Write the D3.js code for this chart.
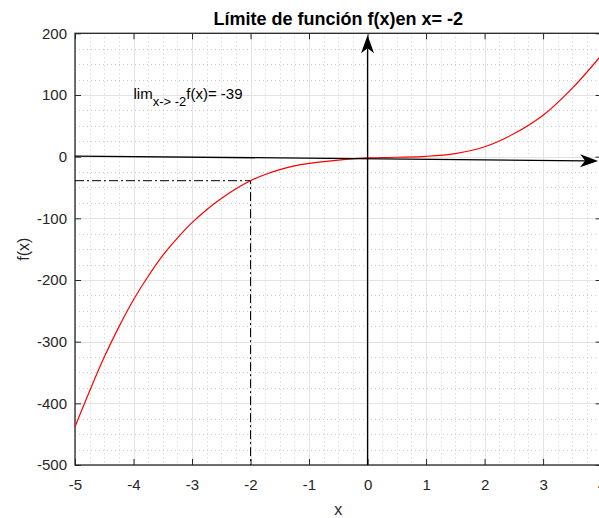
<!DOCTYPE html>
<html>
<head>
    <meta charset="utf-8">
    <title>Límite de función</title>
    <script src="https://d3js.org/d3.v7.min.js"></script>
    <style>
        body { margin: 0; background: #fff; }
        svg { display: block; font-family: "Liberation Sans", Arial, sans-serif; }
        .tick text { fill: #262626; font-size: 15px; }
        .tick line { stroke: #262626; }
    </style>
</head>
<body>
<script>
    // datos
    var xs = [-5, -4.75, -4.5, -4.25, -4, -3.75, -3.5, -3.25, -3, -2.75, -2.5, -2.25, -2,
              -1.75, -1.5, -1.25, -1, -0.75, -0.5, -0.25, 0, 0.5, 1, 1.5, 2, 2.5, 3, 3.5, 4];
    var fx = [-438, -380, -325, -276, -232, -194, -160, -132, -107, -86, -68, -52, -39,
              -29, -21, -15, -11, -8, -5.5, -3.5, -2, -1, 0.5, 5, 16, 37, 67, 111, 165];
    var xTicks = [-5, -4, -3, -2, -1, 0, 1, 2, 3, 4];
    var yTicks = [-500, -400, -300, -200, -100, 0, 100, 200];
    var limX = -2, limY = -39;
    var ejeX = [[-5, 1], [3.94, -7]];   // flecha horizontal
    var ejeY = [[0, -500], [0, 197]];   // flecha vertical
    var titulo = "Límite de función f(x)en x= -2";

    var W = 599, H = 518;
    var mLeft = 75, mRight = 601.6, mTop = 33.3, mBottom = 465;

    var svg = d3.select("body").append("svg")
        .attr("width", W)
        .attr("height", H);

    var x = d3.scaleLinear().domain([-5, 4]).range([mLeft, mRight]);
    var y = d3.scaleLinear().domain([-500, 200]).range([mBottom, mTop]);
    var fmt = function(d) { return String(d); };

    // rejilla menor (punteada)
    var xMinor = d3.range(-5, 4.001, 0.25).filter(function(d) { return d % 1 !== 0; });
    var yMinor = d3.range(-500, 200.1, 25).filter(function(d) { return d % 100 !== 0; });
    var grid = svg.append("g");
    grid.selectAll(".vmin").data(xMinor).enter().append("line")
        .attr("x1", function(d) { return Math.round(x(d)) + 0.5; })
        .attr("x2", function(d) { return Math.round(x(d)) + 0.5; })
        .attr("y1", mTop).attr("y2", mBottom)
        .attr("stroke", "#cccccc").attr("stroke-dasharray", "1,3");
    grid.selectAll(".hmin").data(yMinor).enter().append("line")
        .attr("y1", function(d) { return Math.round(y(d)) + 0.5; })
        .attr("y2", function(d) { return Math.round(y(d)) + 0.5; })
        .attr("x1", mLeft).attr("x2", mRight)
        .attr("stroke", "#cccccc").attr("stroke-dasharray", "1,3");
    // rejilla mayor
    grid.selectAll(".vmaj").data(xTicks).enter().append("line")
        .attr("x1", function(d) { return Math.round(x(d)) + 0.5; })
        .attr("x2", function(d) { return Math.round(x(d)) + 0.5; })
        .attr("y1", mTop).attr("y2", mBottom)
        .attr("stroke", "#e3e3e3");
    grid.selectAll(".hmaj").data(yTicks).enter().append("line")
        .attr("y1", function(d) { return Math.round(y(d)) + 0.5; })
        .attr("y2", function(d) { return Math.round(y(d)) + 0.5; })
        .attr("x1", mLeft).attr("x2", mRight)
        .attr("stroke", "#e3e3e3");

    // ejes
    svg.append("g")
        .attr("transform", "translate(0," + mBottom + ")")
        .call(d3.axisBottom(x).tickValues(xTicks).tickFormat(fmt).tickSize(-6).tickSizeOuter(0).tickPadding(14))
        .call(function(g) { g.select(".domain").remove(); });
    svg.append("g")
        .attr("transform", "translate(" + mLeft + ",0)")
        .call(d3.axisLeft(y).tickValues(yTicks).tickFormat(fmt).tickSize(-6).tickSizeOuter(0).tickPadding(8))
        .call(function(g) { g.select(".domain").remove(); });
    svg.append("g")
        .attr("transform", "translate(0," + mTop + ")")
        .call(d3.axisTop(x).tickValues(xTicks).tickSize(-6).tickSizeOuter(0).tickFormat(""))
        .call(function(g) { g.select(".domain").remove(); });
    svg.append("g")
        .attr("transform", "translate(" + mRight + ",0)")
        .call(d3.axisRight(y).tickValues(yTicks).tickSize(-6).tickSizeOuter(0).tickFormat(""))
        .call(function(g) { g.select(".domain").remove(); });
    svg.selectAll(".tick text").attr("font-family", "Liberation Sans, Arial, sans-serif");

    svg.append("rect")
        .attr("x", mLeft).attr("y", mTop)
        .attr("width", mRight - mLeft).attr("height", mBottom - mTop)
        .attr("fill", "none").attr("stroke", "#262626").attr("stroke-width", 1.3);

    // lineas de referencia (raya-punto)
    svg.append("path")
        .attr("d", d3.line()([[x(-5), y(limY)], [x(limX), y(limY)], [x(limX), y(-500)]]))
        .attr("fill", "none").attr("stroke", "#000").attr("stroke-width", 1)
        .attr("stroke-dasharray", "9,3,2,3");

    // curva
    var line = d3.line()
        .x(function(d, i) { return x(xs[i]); })
        .y(function(d) { return y(d); })
        .curve(d3.curveCatmullRom.alpha(0.5));
    svg.append("path")
        .datum(fx)
        .attr("d", line)
        .attr("fill", "none")
        .attr("stroke", "#ff0000")
        .attr("stroke-width", 1.2);

    // flechas
    function flecha(p) {
        var x0 = x(p[0][0]), y0 = y(p[0][1]), x1 = x(p[1][0]), y1 = y(p[1][1]);
        var dx = x1 - x0, dy = y1 - y0, len = Math.sqrt(dx * dx + dy * dy);
        var ux = dx / len, uy = dy / len, nx = -uy, ny = ux;
        var L = 18, Wd = 6.5, N = 13;
        var bx = x1 - ux * L, by = y1 - uy * L;
        var mx = x1 - ux * N, my = y1 - uy * N;
        svg.append("line")
            .attr("x1", x0).attr("y1", y0).attr("x2", mx).attr("y2", my)
            .attr("stroke", "#000").attr("stroke-width", 1.3);
        svg.append("path")
            .attr("d", "M" + x1 + "," + y1 +
                " L" + (bx + nx * Wd) + "," + (by + ny * Wd) +
                " L" + mx + "," + my +
                " L" + (bx - nx * Wd) + "," + (by - ny * Wd) + " Z")
            .attr("fill", "#000");
    }
    flecha(ejeX);
    flecha(ejeY);

    // texto del limite
    var t = svg.append("text")
        .attr("x", x(-4)).attr("y", y(100) + 4)
        .attr("font-size", 15).attr("fill", "#000");
    t.append("tspan").text("lim");
    t.append("tspan").attr("dy", 7).attr("font-size", 13).text("x-> -2");
    t.append("tspan").attr("dy", -7).text("f(x)= -39");

    // titulos
    svg.append("text")
        .attr("x", (mLeft + mRight) / 2).attr("y", 25)
        .attr("text-anchor", "middle")
        .attr("font-size", 18).attr("font-weight", "bold")
        .attr("fill", "#000")
        .text(titulo);
    svg.append("text")
        .attr("x", (mLeft + mRight) / 2).attr("y", 515)
        .attr("text-anchor", "middle")
        .attr("font-size", 16).attr("fill", "#262626")
        .text("x");
    svg.append("text")
        .attr("transform", "translate(29," + ((mTop + mBottom) / 2) + ") rotate(-90)")
        .attr("text-anchor", "middle")
        .attr("font-size", 16).attr("fill", "#262626")
        .text("f(x)");
</script>
</body>
</html>
